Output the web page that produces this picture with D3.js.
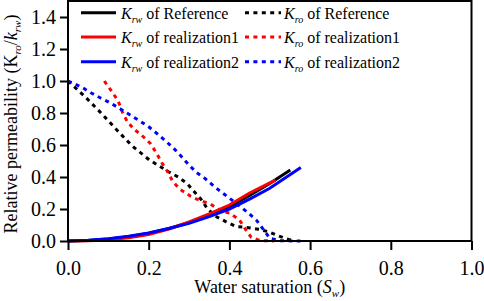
<!DOCTYPE html>
<meta charset="utf-8">
<script src="https://d3js.org/d3.v7.min.js"></script>
<style>
  body { margin: 0; background: #fff; }
</style>
<div id="chart"></div>
<script>
// Krw curves (solid)
const swKrwRef = [0, 0.05, 0.1, 0.15, 0.2, 0.25, 0.3, 0.35, 0.4, 0.45, 0.5, 0.551];
const krwRef   = [0, 0.003, 0.012, 0.027, 0.048, 0.078, 0.115, 0.16, 0.215, 0.285, 0.36, 0.444];
const swKrwR1  = [0, 0.05, 0.1, 0.15, 0.2, 0.25, 0.3, 0.35, 0.4, 0.45, 0.514];
const krwR1    = [0, 0.002, 0.008, 0.02, 0.04, 0.075, 0.12, 0.17, 0.225, 0.3, 0.381];
const swKrwR2  = [0, 0.05, 0.1, 0.15, 0.2, 0.25, 0.3, 0.35, 0.4, 0.45, 0.5, 0.577];
const krwR2    = [0, 0.004, 0.014, 0.03, 0.05, 0.078, 0.11, 0.152, 0.2, 0.262, 0.33, 0.46];

// Kro curves (dotted)
const swKroRef = [0, 0.043, 0.082, 0.121, 0.159, 0.202, 0.249, 0.273, 0.295, 0.313, 0.33, 0.346, 0.369, 0.392, 0.417, 0.443, 0.472, 0.497, 0.522, 0.547, 0.56];
const kroRef   = [1.0, 0.90, 0.80, 0.694, 0.594, 0.506, 0.433, 0.40, 0.36, 0.308, 0.26, 0.2, 0.15, 0.12, 0.09, 0.085, 0.073, 0.058, 0.031, 0.01, 0];
const swKroR1  = [0.09, 0.107, 0.124, 0.134, 0.146, 0.163, 0.183, 0.204, 0.219, 0.233, 0.247, 0.26, 0.278, 0.303, 0.328, 0.353, 0.378, 0.402, 0.425, 0.44, 0.454, 0.477, 0.51];
const kroR1    = [1.0, 0.94, 0.877, 0.81, 0.75, 0.70, 0.66, 0.61, 0.55, 0.487, 0.433, 0.37, 0.323, 0.281, 0.252, 0.231, 0.19, 0.173, 0.131, 0.073, 0.023, 0.002, 0];
const swKroR2  = [0, 0.035, 0.059, 0.082, 0.107, 0.13, 0.154, 0.177, 0.2, 0.22, 0.241, 0.262, 0.28, 0.299, 0.319, 0.34, 0.361, 0.382, 0.404, 0.425, 0.448, 0.468, 0.485, 0.5, 0.524, 0.576];
const kroR2    = [1.0, 0.96, 0.923, 0.892, 0.86, 0.825, 0.787, 0.752, 0.714, 0.673, 0.627, 0.579, 0.531, 0.477, 0.427, 0.39, 0.344, 0.302, 0.26, 0.219, 0.173, 0.127, 0.069, 0.017, 0.002, 0];

const xMajor = [0, 0.2, 0.4, 0.6, 0.8, 1.0];
const yMajor = [0, 0.2, 0.4, 0.6, 0.8, 1.0, 1.2, 1.4];

const series = [
  { name: "Reference",    type: "ro", color: "#000", x: swKroRef, y: kroRef },
  { name: "realization1", type: "ro", color: "#f00", x: swKroR1,  y: kroR1 },
  { name: "realization2", type: "ro", color: "#00f", x: swKroR2,  y: kroR2 },
  { name: "Reference",    type: "rw", color: "#000", x: swKrwRef, y: krwRef },
  { name: "realization1", type: "rw", color: "#f00", x: swKrwR1,  y: krwR1 },
  { name: "realization2", type: "rw", color: "#00f", x: swKrwR2,  y: krwR2 }
];

const width = 484, height = 301;
const mLeft = 68, mRight = 471.5, mTop = 1, mBottom = 241;

const svg = d3.select("#chart").append("svg")
  .attr("width", width)
  .attr("height", height)
  .style("display", "block");

const x = d3.scaleLinear().domain([0, 1]).range([mLeft, mRight]);
const y = d3.scaleLinear().domain([0, 1.5]).range([mBottom, mTop]);

// minor ticks every 0.04
const xMinor = d3.range(0, 1.0001, 0.04).filter(v => Math.abs(v * 5 - Math.round(v * 5)) > 1e-6);
const yMinor = d3.range(0, 1.5, 0.04).filter(v => Math.abs(v * 5 - Math.round(v * 5)) > 1e-6);

const line = d3.line()
  .x(d => x(d[0]))
  .y(d => y(d[1]));

series.forEach(s => {
  svg.append("path")
    .datum(s.x.map((v, i) => [v, s.y[i]]))
    .attr("fill", "none")
    .attr("stroke", s.color)
    .attr("stroke-width", 3)
    .attr("stroke-dasharray", s.type == "ro" ? "4,4.4" : null)
    .attr("d", line);
});

// axes
const gx = svg.append("g").attr("transform", `translate(0,${mBottom})`);
gx.call(d3.axisBottom(x).tickValues(xMinor).tickSize(5).tickFormat(""));
gx.call(d3.axisBottom(x).tickValues(xMajor).tickSize(9).tickFormat(d3.format(".1f")));

const gy = svg.append("g").attr("transform", `translate(${mLeft},0)`);
gy.call(d3.axisLeft(y).tickValues(yMinor).tickSize(5).tickFormat(""));
gy.call(d3.axisLeft(y).tickValues(yMajor).tickSize(8).tickFormat(d3.format(".1f")));

svg.selectAll(".domain").remove();
svg.selectAll(".tick line").attr("stroke", "#000").attr("stroke-width", 2);
gx.selectAll(".tick text")
  .attr("font-size", 20)
  .attr("dy", null)
  .attr("y", 34);
gy.selectAll(".tick text")
  .attr("font-size", 20)
  .attr("x", -12)
  .attr("dy", "0.34em");

// frame
svg.append("rect")
  .attr("x", mLeft)
  .attr("y", mTop)
  .attr("width", mRight - mLeft)
  .attr("height", mBottom - mTop)
  .attr("fill", "none")
  .attr("stroke", "#000")
  .attr("stroke-width", 2);

// axis titles
const xt = svg.append("text")
  .attr("x", (mLeft + mRight) / 2)
  .attr("y", 293)
  .attr("text-anchor", "middle")
  .attr("font-size", 18);
xt.append("tspan").text("Water saturation (");
xt.append("tspan").attr("font-style", "italic").text("S");
xt.append("tspan").attr("font-style", "italic").attr("font-size", 11).attr("dy", 4).text("w");
xt.append("tspan").attr("dy", -4).text(")");

const yt = svg.append("text")
  .attr("transform", "translate(17,124) rotate(-90)")
  .attr("text-anchor", "middle")
  .attr("font-size", 18);
yt.append("tspan").text("Relative permeability (K");
yt.append("tspan").attr("font-style", "italic").attr("font-size", 11).attr("dy", 4).text("ro");
yt.append("tspan").attr("dy", -4).text("/");
yt.append("tspan").attr("font-style", "italic").text("k");
yt.append("tspan").attr("font-style", "italic").attr("font-size", 11).attr("dy", 4).text("rw");
yt.append("tspan").attr("dy", -4).text(")");

// legend
const rows = [12.7, 37, 61.7];
const cols = [{ x0: 81, x1: 116, tx: 121, type: "rw" }, { x0: 245, x1: 281, tx: 284, type: "ro" }];
cols.forEach(c => {
  series.filter(s => s.type == c.type).forEach((s, i) => {
    svg.append("line")
      .attr("x1", c.x0).attr("x2", c.x1)
      .attr("y1", rows[i]).attr("y2", rows[i])
      .attr("stroke", s.color)
      .attr("stroke-width", 3)
      .attr("stroke-dasharray", c.type == "ro" ? "4,4.4" : null);
    const t = svg.append("text")
      .attr("x", c.tx)
      .attr("y", rows[i] + 6)
      .attr("font-size", 16);
    t.append("tspan").attr("font-style", "italic").text("K");
    t.append("tspan").attr("font-style", "italic").attr("font-size", 10).attr("dy", 4).text("r" + (c.type == "rw" ? "w" : "o"));
    t.append("tspan").attr("dy", -4).text(" of " + s.name);
  });
});

// serif everywhere
svg.selectAll("text").style("font-family", '"Liberation Serif"').style("fill", "#000");
</script>
